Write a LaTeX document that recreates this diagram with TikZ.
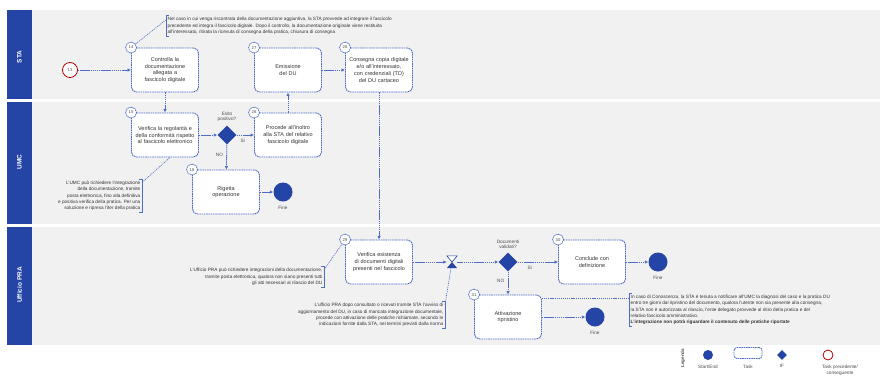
\documentclass[tikz,border=0pt]{standalone}
\usepackage{fontspec}
\setmainfont{Liberation Sans}
\usetikzlibrary{shapes.geometric,arrows.meta}

\definecolor{bpmnblue}{HTML}{2444A6}
\definecolor{linkblue}{HTML}{4F6CC6}
\definecolor{lanegray}{HTML}{F1F1F1}

\tikzset{
  task/.style={rectangle,rounded corners=5pt,draw=linkblue,line width=0.9pt,
    dash pattern=on 1.6pt off 0.7pt,fill=white,minimum width=67pt,minimum height=44pt,
    text width=60pt,align=center,inner sep=1pt,text=black!80,
    execute at begin node=\hyphenpenalty10000\relax,
    font=\fontsize{5.5}{6.8}\selectfont},
  legtask/.style={rectangle,rounded corners=3pt,draw=linkblue,line width=0.9pt,
    dash pattern=on 1.6pt off 0.7pt,fill=white,minimum width=28pt,minimum height=11pt},
  num/.style={circle,draw=linkblue,line width=0.7pt,dash pattern=on 1.2pt off 0.6pt,
    fill=white,inner sep=0pt,minimum size=11pt,text=black!70,font=\fontsize{4.2}{4.2}\selectfont},
  gate/.style={diamond,fill=bpmnblue,inner sep=0pt,minimum size=19pt},
  endev/.style={circle,fill=bpmnblue,inner sep=0pt,minimum size=19pt},
  startev/.style={circle,draw=red!70!black,line width=0.8pt,fill=white,inner sep=0pt,
    minimum size=15pt,text=black!70,font=\fontsize{4.2}{4.2}\selectfont},
  flow/.style={draw=linkblue,line width=0.8pt,dash pattern=on 1.5pt off 0.6pt,
    -{Latex[length=3.5pt,width=3.5pt]}},
  assoc/.style={draw=linkblue,line width=0.6pt,dash pattern=on 1.2pt off 0.9pt},
  brk/.style={draw=linkblue,line width=0.7pt},
  note/.style={inner sep=1.5pt,text=black!80,font=\fontsize{4.7}{6.3}\selectfont},
  lbl/.style={align=center,text=black!70,font=\fontsize{4.7}{5.6}\selectfont},
  lanetxt/.style={rotate=90,text=white,font=\fontsize{6.5}{7}\selectfont\bfseries},
}

\begin{document}
\begin{tikzpicture}[x=1pt,y=-1pt]
\useasboundingbox (0,0) rectangle (888,378);

% corsie
\fill[lanegray] (32,10) rectangle (880,345);
\fill[white] (7,99) rectangle (880,102);
\fill[white] (7,224) rectangle (880,227);
\fill[bpmnblue] (7,10) rectangle (32,99);
\fill[bpmnblue] (7,102) rectangle (32,224);
\fill[bpmnblue] (7,227) rectangle (32,345);
\node[lanetxt] (lsta) at (19.5,57) {STA};
\node[lanetxt] (lumc) at (19.5,162) {UMC};
\node[lanetxt] (lpra) at (19.5,285) {Ufficio PRA};

% corsia STA
\node[startev] (s0) at (70,70) {13};
\node[task] (t1) at (165,70) {Controlla la documentazione allegata a fascicolo digitale};
\node[num] (c14) at (t1.north west) {14};
\node[task] (t2) at (288,70) {Emissione\\del DU};
\node[num] (c27) at (t2.north west) {27};
\node[task] (t3) at (379,70) {Consegna copia digitale e/o all'interessato, con credenziali (TD) del DU cartaceo};
\node[num] (c28) at (t3.north west) {28};
\node[note,anchor=west,align=left] (n1) at (166,26) {Nel caso in cui venga riscontrata della documentazione aggiuntiva, la STA provvede ad integrare il fascicolo\\
precedente ed integra il fascicolo digitale. Dopo il controllo, la documentazione originale viene restituita\\
all'interessato, ritirata la ricevuta di consegna della pratica, chiusura di consegna};

% corsia UMC
\node[task] (t4) at (165,135) {Verifica la regolarit\`a e della conformit\`a rispetto al fascicolo elettronico};
\node[num] (c15) at (t4.north west) {15};
\node[gate,label={[lbl,label distance=0pt]above:Esito\\positivo?}] (g1) at (227,135) {};
\node[task] (t5) at (288,135) {Procede all'inoltro alla STA del relativo fascicolo digitale};
\node[num] (c26) at (t5.north west) {26};
\node[task] (t6) at (226,192) {Rigetta\\operazione};
\node[num] (c16) at (t6.north west) {16};
\node[endev,label={[lbl,label distance=1pt]below:Fine}] (e1) at (283,192) {};
\node[note,anchor=east,align=right] (n2) at (142,196) {L'UMC pu\`o richiedere l'integrazione\\
della documentazione, tramite\\
posta elettronica, fino alla definitiva\\
e positiva verifica della pratica. Per una\\
soluzione e ripresa l'iter della pratica};

% corsia Ufficio PRA
\node[task] (t7) at (379,262) {Verifica esistenza di documenti digitali presenti nel fascicolo};
\node[num] (c29) at (t7.north west) {29};
\node[inner sep=0pt,minimum width=10pt,minimum height=12pt] (ev) at (452,262) {};
\node[gate,label={[lbl,label distance=0pt]above:Documenti\\validati?}] (g2) at (508,262) {};
\node[task] (t8) at (592,262) {Conclude con\\definizione};
\node[num] (c30) at (t8.north west) {30};
\node[endev,label={[lbl,label distance=1pt]below:Fine}] (e2) at (658,262) {};
\node[task] (t9) at (508,317) {Attivazione\\ripristino};
\node[num] (c31) at (t9.north west) {31};
\node[endev,label={[lbl,label distance=1pt]below:Fine}] (e3) at (595,317) {};
\node[note,anchor=east,align=right] (n3) at (324,277) {L'Ufficio PRA pu\`o richiedere integrazioni della documentazione,\\
tramite posta elettronica, qualora non siano presenti tutti\\
gli atti necessari al rilascio del DU};
\node[note,anchor=east,align=right] (n4) at (445,315) {L'ufficio PRA dopo consultato o ricevuti tramite STA l'avviso di\\
aggiornamento del DU, in caso di mancata integrazione documentale,\\
procede con attivazione delle pratiche richiamate, secondo le\\
indicazioni fornite dalla STA, nei termini previsti dalla norma};
\node[note,anchor=west,align=left] (n5) at (629,310) {In caso di Conoscenza, la STA \`e tenuta a notificare all'UMC la diagnosi del caso e la pratica DU\\
entro tre giorni dal ripristino del documento, qualora l'utente non sia presente alla consegna,\\
la STA non \`e autorizzata al rilascio, l'ente delegato provvede al ritiro della pratica e del\\
relativo fascicolo amministrativo.\\
\textbf{L'integrazione non potr\`a riguardare il contenuto delle pratiche riportate}};

% evento intermedio
\draw[bpmnblue,line width=0.6pt,fill=white] (ev.north west) -- (ev.north east) -- (ev.center) -- cycle;
\fill[bpmnblue] (ev.south west) -- (ev.south east) -- (ev.center) -- cycle;

% parentesi delle note
\draw[brk] ([xshift=3pt]n1.north west) -- (n1.north west) -- (n1.south west) -- ([xshift=3pt]n1.south west);
\draw[brk] ([xshift=-3pt]n2.north east) -- (n2.north east) -- (n2.south east) -- ([xshift=-3pt]n2.south east);
\draw[brk] ([xshift=-3pt]n3.north east) -- (n3.north east) -- (n3.south east) -- ([xshift=-3pt]n3.south east);
\draw[brk] ([xshift=-3pt]n4.north east) -- (n4.north east) -- (n4.south east) -- ([xshift=-3pt]n4.south east);
\draw[brk] ([xshift=3pt]n5.north west) -- (n5.north west) -- (n5.south west) -- ([xshift=3pt]n5.south west);

% flussi
\draw[flow] (s0) -- (t1);
\draw[flow] (t1) -- (t4);
\draw[flow] (t4) -- (g1);
\draw[flow] (g1) -- node[lbl,below,pos=0.35] {S\`i} (t5);
\draw[flow] (g1) -- node[lbl,left,pos=0.4] {NO} (t6);
\draw[flow] (t6) -- (e1);
\draw[flow] (t5) -- (t2);
\draw[flow] (t2) -- (t3);
\draw[flow] (t3) -- (t7);
\draw[flow] (t7) -- (ev);
\draw[flow] (ev) -- (g2);
\draw[flow] (g2) -- node[lbl,below,pos=0.3] {S\`i} (t8);
\draw[flow] (g2) -- node[lbl,left,pos=0.4] {NO} (t9);
\draw[flow] (t8) -- (e2);
\draw[flow] (t9) -- (e3);

% associazioni
\draw[assoc] (c14) -- ([yshift=-4pt]n1.north west);
\draw[assoc] ([yshift=-3pt]n2.north east) -- ([xshift=5pt]t4.south);
\draw[assoc] ([yshift=-3pt]n3.north east) -- (c29);
\draw[assoc] ([yshift=-3pt]n4.north east) -- (ev);
\draw[assoc] ([yshift=19pt]t9.east) -- ([yshift=19pt]t9.east -| n5.west);

% legenda
\node[rotate=90,lbl,font=\fontsize{4.5}{5}\selectfont\bfseries] (leg) at (683,358) {Legenda};
\node[endev,minimum size=10pt,label={[lbl,label distance=1pt]below:Start/End}] (l1) at (708,355) {};
\node[legtask] (l2) at (748,353) {};
\node[lbl] (l2t) at (748,367) {Task};
\node[gate,minimum size=10pt,label={[lbl,label distance=1pt]below:IF}] (l3) at (782,355) {};
\node[startev,minimum size=10pt] (l4) at (828,355) {};
\node[lbl] (l4t) at (840,370) {Task precedente/\\conseguente};
\end{tikzpicture}
\end{document}
